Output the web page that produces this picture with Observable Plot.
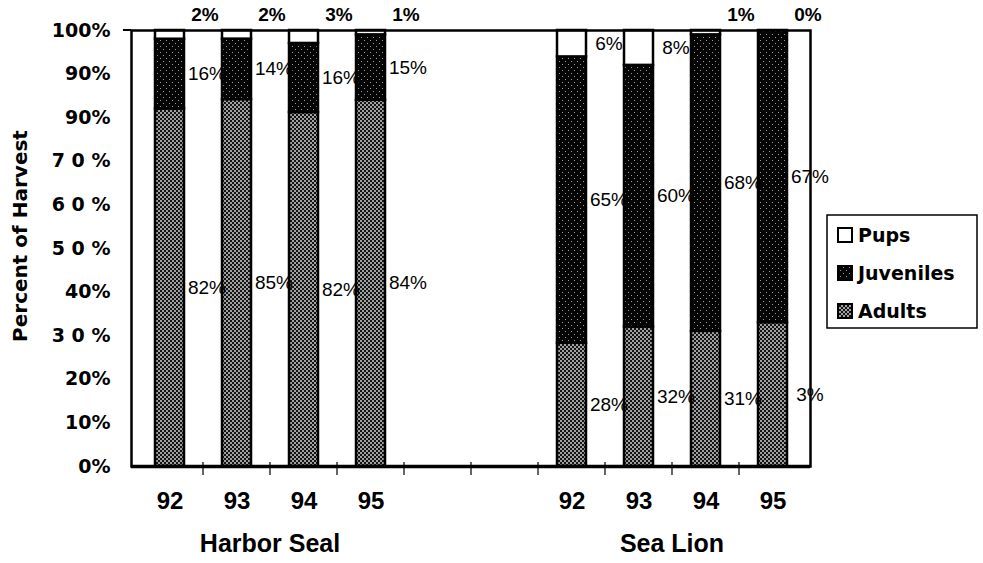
<!DOCTYPE html>
<html><head><meta charset="utf-8">
<script src="https://cdn.jsdelivr.net/npm/d3@7"></script>
<script src="https://cdn.jsdelivr.net/npm/@observablehq/plot@0.6"></script>
<style>body{margin:0;background:#fff;} #chart svg{display:block;}</style>
</head><body><div id="chart"></div>
<script>
// ---- data ----
const categories = ["HS92","HS93","HS94","HS95","gapA","gapB","SL92","SL93","SL94","SL95"];
const categoryTickLabels = ["92","93","94","95","","","92","93","94","95"];
const groups = ["Harbor Seal","Sea Lion"];
const groupCategories = [["HS93","HS94"],["SL93","SL94"]];
const hsCats = ["HS92","HS93","HS94","HS95"];
const slCats = ["SL92","SL93","SL94","SL95"];
const hsAdults = [82,85,82,84];
const hsJuveniles = [16,14,16,15];
const hsPups = [2,2,3,1];
const slAdults = [28,32,31,33];
const slJuveniles = [65,60,68,67];
const slPups = [6,8,1,0];
const slAdultLabels = ["28%","32%","31%","3%"];
const stages = ["Adults","Juveniles","Pups"];          // stack order, bottom to top
const legendStages = ["Pups","Juveniles","Adults"];
const yTicks = [0,0.1,0.2,0.3,0.4,0.5,0.6,0.7,0.8,0.9,1];
const yTickLabels = ["0%","10%","20%","3 0 %","40%","5 0 %","6 0 %","7 0 %","90%","90%","100%"];

// ---- build rows ----
const rows = [];
function addSeries(cats, adults, juv, pups, adultText) {
  cats.forEach((c, i) => {
    rows.push({cat: c, stage: "Adults", value: adults[i], text: adultText ? adultText[i] : adults[i] + "%"});
    rows.push({cat: c, stage: "Juveniles", value: juv[i], text: juv[i] + "%"});
    rows.push({cat: c, stage: "Pups", value: pups[i], text: pups[i] + "%"});
  });
}
addSeries(hsCats, hsAdults, hsJuveniles, hsPups, null);
addSeries(slCats, slAdults, slJuveniles, slPups, slAdultLabels);

// label positions: midpoint of each normalized segment; tiny pup shares go above the frame
const labelsIn = [], labelsTop = [];
d3.group(rows, d => d.cat).forEach((list, cat) => {
  const total = d3.sum(list, d => d.value);
  let acc = 0;
  stages.forEach(s => {
    const r = list.find(d => d.stage === s);
    const mid = (acc + r.value / 2) / total;
    acc += r.value;
    if (s === "Pups" && r.value < 5) labelsTop.push({cat, y: 1, text: r.text});
    else labelsIn.push({cat, y: mid, text: r.text});
  });
});

const patternUrl = {Adults: "url(#pAdults)", Juveniles: "url(#pJuv)", Pups: "#ffffff"};

const plot = Plot.plot({
  width: 983, height: 563,
  marginLeft: 131, marginRight: 173, marginTop: 30, marginBottom: 97,
  style: {fontFamily: "Liberation Sans, Arial, sans-serif", background: "#fff", color: "#000"},
  x: {domain: categories, paddingInner: 0.57, paddingOuter: 0.285},
  y: {domain: [0, 1]},
  color: {domain: stages, range: stages.map(s => patternUrl[s])},
  marks: [
    Plot.barY(rows, Plot.stackY({x: "cat", y: "value", fill: "stage", order: stages, offset: "normalize",
      stroke: "#000", strokeWidth: 2.5})),
    Plot.frame({stroke: "#000", strokeWidth: 2.5}),
    Plot.ruleY([0], {stroke: "#000", strokeWidth: 3.5}),
    Plot.axisY({ticks: yTicks, tickFormat: d => yTickLabels[Math.round(d * 10)], tickSize: 0, tickPadding: 21,
      fontSize: 19, fontWeight: "bold", fontFamily: "DejaVu Sans", label: null}),
    Plot.axisX({tickSize: 0, tickPadding: 25, tickFormat: c => categoryTickLabels[categories.indexOf(c)],
      fontSize: 24, fontWeight: "bold", fontFamily: "Liberation Sans", label: null}),
    Plot.text(labelsIn, {x: "cat", y: "y", text: "text", dx: 37, fontSize: 19, fill: "#000"}),
    Plot.text(labelsTop, {x: "cat", y: "y", text: "text", dx: 35, dy: -16, fontSize: 19, fontWeight: "bold", fill: "#000"})
  ]
});

const svg = d3.select(plot);
svg.insert("defs", ":first-child").html(`
  <pattern id="pAdults" width="4" height="4" patternUnits="userSpaceOnUse">
    <rect width="4" height="4" fill="#141414"/>
    <rect x="0.2" y="0.2" width="1.6" height="1.6" fill="#f0f0f0"/>
    <rect x="2.2" y="2.2" width="1.6" height="1.6" fill="#f0f0f0"/>
  </pattern>
  <pattern id="pJuv" width="6" height="6" patternUnits="userSpaceOnUse">
    <rect width="6" height="6" fill="#050505"/>
    <rect x="1" y="1" width="1" height="1" fill="#9a9a9a"/>
    <rect x="4" y="4" width="1" height="1" fill="#9a9a9a"/>
  </pattern>`);

const xs = plot.scale("x"), ys = plot.scale("y");
const y0 = ys.apply(0), y1 = ys.apply(1);
const xLeft = xs.range[0];
const extra = svg.append("g").attr("text-anchor", "start");

// tick marks at band boundaries on the baseline
categories.slice(0, -1).forEach(c => {
  const bx = xs.apply(c) + xs.bandwidth + (xs.step - xs.bandwidth) / 2;
  extra.append("line").attr("x1", bx).attr("x2", bx).attr("y1", y0 - 4).attr("y2", y0 + 9)
    .attr("stroke", "#000").attr("stroke-width", 1.2);
});
// small 100% tick
extra.append("line").attr("x1", xLeft - 8).attr("x2", xLeft).attr("y1", y1).attr("y2", y1)
  .attr("stroke", "#000").attr("stroke-width", 2);

// y axis title
extra.append("text").attr("transform", `translate(27,${(y0 + y1) / 2 - 12}) rotate(-90)`)
  .attr("text-anchor", "middle").attr("font-family", "DejaVu Sans").attr("font-weight", "bold")
  .attr("font-size", 20).text("Percent of Harvest");

// group titles
groups.forEach((g, i) => {
  const [a, b] = groupCategories[i];
  const cx = (xs.apply(a) + xs.apply(b)) / 2 + xs.bandwidth / 2;
  extra.append("text").attr("x", cx).attr("y", 552).attr("text-anchor", "middle")
    .attr("font-family", "Liberation Sans, Arial").attr("font-weight", "bold").attr("font-size", 25).text(g);
});

// legend
const lg = extra.append("g").attr("transform", "translate(827,215)");
lg.append("rect").attr("width", 150).attr("height", 113).attr("fill", "#fff")
  .attr("stroke", "#000").attr("stroke-width", 1.5);
legendStages.forEach((s, i) => {
  const yy = 13 + i * 38;
  lg.append("rect").attr("x", 11).attr("y", yy).attr("width", 14).attr("height", 14)
    .attr("fill", patternUrl[s]).attr("stroke", "#000").attr("stroke-width", 2);
  lg.append("text").attr("x", 31).attr("y", yy + 14).attr("text-anchor", "start")
    .attr("font-family", "DejaVu Sans").attr("font-weight", "bold").attr("font-size", 19).text(s);
});

document.getElementById("chart").append(plot);
</script>
</body></html>
